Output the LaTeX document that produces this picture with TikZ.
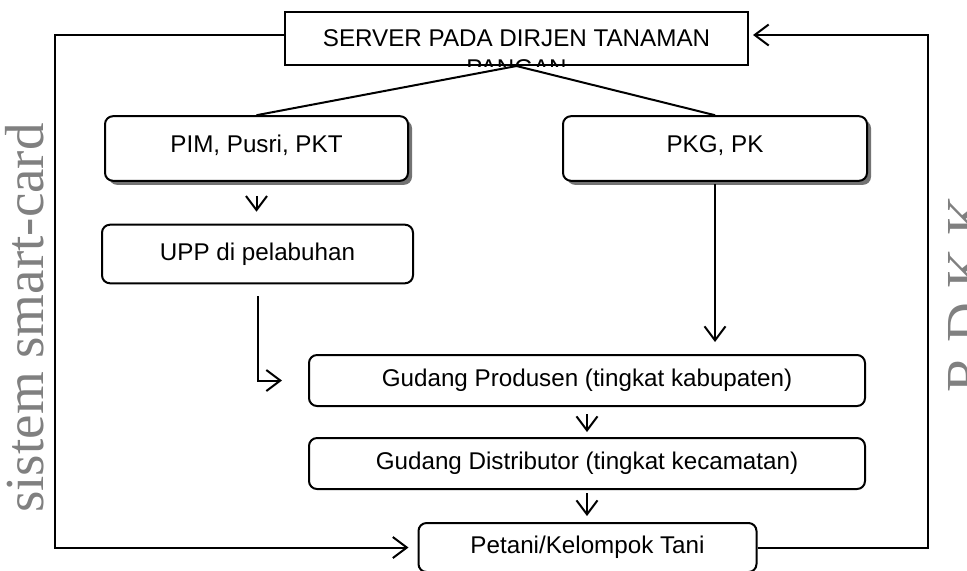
\documentclass[tikz,border=0pt]{standalone}
\usepackage{fontspec}
\setmainfont{Liberation Sans}
\newfontfamily\sidefont{Liberation Serif}
\usetikzlibrary{arrows.meta,shadows}
\definecolor{sidegray}{gray}{0.5}
\tikzset{
  boxtext/.style={font=\fontsize{12.1pt}{14pt}\selectfont},
  serverbox/.style={boxtext, draw, fill=white, minimum width=231.5pt, minimum height=26.5pt, inner sep=0pt},
  box/.style={boxtext, draw, fill=white, rounded corners=4pt, inner sep=0pt},
  upperbox/.style={box, text height=17.9pt},
  shadowbox/.style={upperbox, drop shadow={shadow xshift=2pt, shadow yshift=-2pt, fill=black!55, opacity=1}},
  sidelabel/.style={text=sidegray, font=\sidefont\fontsize{27.5pt}{30pt}\selectfont, rotate=90, anchor=base, inner sep=0pt}
}
\begin{document}
\begin{tikzpicture}[x=0.5pt, y=-0.5pt, line width=1pt, >={Straight Barb[length=7pt,width=10.5pt]}]
  \clip (0,0) rectangle (967,570);
  \node[serverbox] (server) at (516.5,38.5) {SERVER PADA DIRJEN TANAMAN};
  \begin{scope}
    \clip (server.south west) rectangle (server.north east);
    \node[boxtext, anchor=north, inner sep=0pt] (pangan) at (516.5,59) {PANGAN};
  \end{scope}
  \node[shadowbox, minimum width=151.5pt, text depth=14.4pt] (pim) at (256.5,148.5) {PIM, Pusri, PKT};
  \node[shadowbox, minimum width=152pt, text depth=14.4pt] (pkg) at (715,148.5) {PKG, PK};
  \node[upperbox, minimum width=155.5pt, text depth=11.4pt] (upp) at (257.5,254) {UPP di pelabuhan};
  \node[box, minimum width=278pt, minimum height=25.5pt] (gudangP) at (587,380.5) {Gudang Produsen (tingkat kabupaten)};
  \node[box, minimum width=278pt, minimum height=25.5pt] (gudangD) at (587,463.5) {Gudang Distributor (tingkat kecamatan)};
  \node[box, minimum width=169pt, minimum height=24.5pt] (petani) at (587.5,547.5) {Petani/Kelompok Tani};
  \node[sidelabel] (smartcard) at (43,318) {sistem smart-card};
  \node[sidelabel] (rdkk) at (984,294) {R D K K};
  \draw (server.south) -- (pim.north);
  \draw (server.south) -- (pkg.north);
  \begin{scope}[->]
    \draw[shorten <=7pt, shorten >=6pt] (pim.south) -- (pim.south |- upp.north);
    \draw[shorten <=6pt, shorten >=13pt] (upp.south) |- (gudangP.west);
    \draw[shorten <=1pt, shorten >=6pt] (pkg.south) -- (pkg.south |- gudangP.north);
    \draw[shorten <=3.5pt, shorten >=2.5pt] (gudangP.south) -- (gudangD.north);
    \draw[shorten <=1.5pt, shorten >=3pt] (gudangD.south) -- (gudangD.south |- petani.north);
    \draw[shorten >=4.5pt] ([yshift=1.75pt]server.west) -- ++(-229,0) |- (petani.west);
    \draw[shorten >=2pt] (petani.east) -- ++(170.5,0) |- ([yshift=1.75pt]server.east);
  \end{scope}
\end{tikzpicture}
\end{document}
